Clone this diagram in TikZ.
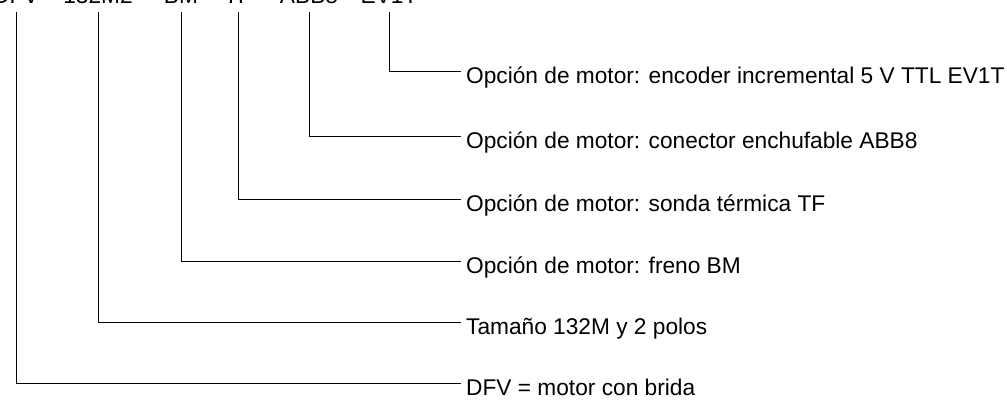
\documentclass[tikz,border=0pt]{standalone}
\usepackage{fontspec}
\setmainfont{Liberation Sans}
\usepackage{tikz}

\begin{document}
\begin{tikzpicture}[
  x=1pt,
  y=-1pt,
  lead/.style={draw=black,line width=1pt},
  code/.style={font=\fontsize{22.7}{27}\selectfont,anchor=base,inner xsep=0pt,inner ysep=9pt,text depth=0pt},
  desc/.style={font=\fontsize{22.7}{27}\selectfont,anchor=west,inner xsep=5pt,inner ysep=0pt,text height=24pt,text depth=0pt}
]
\useasboundingbox (0,0) rectangle (1007,405);
\foreach \x/\y/\w/\t [count=\i] in {
  16/383/DFV/{DFV = motor con brida},
  98/322/132M2/{Tamaño 132M y 2 polos},
  181/261/BM/{Opción de motor: freno BM},
  238/199/TF/{Opción de motor: sonda térmica TF},
  309/136/ABB8/{Opción de motor: conector enchufable ABB8},
  389/71/EV1T/{Opción de motor: encoder incremental 5 V TTL EV1T}} {
  \node[code] (w\i) at (\x,3) {\w};
  \node[desc] (d\i) at (461,\y) {\t};
  \draw[lead] (w\i.south) |- (d\i.west);
}
\end{tikzpicture}
\end{document}
